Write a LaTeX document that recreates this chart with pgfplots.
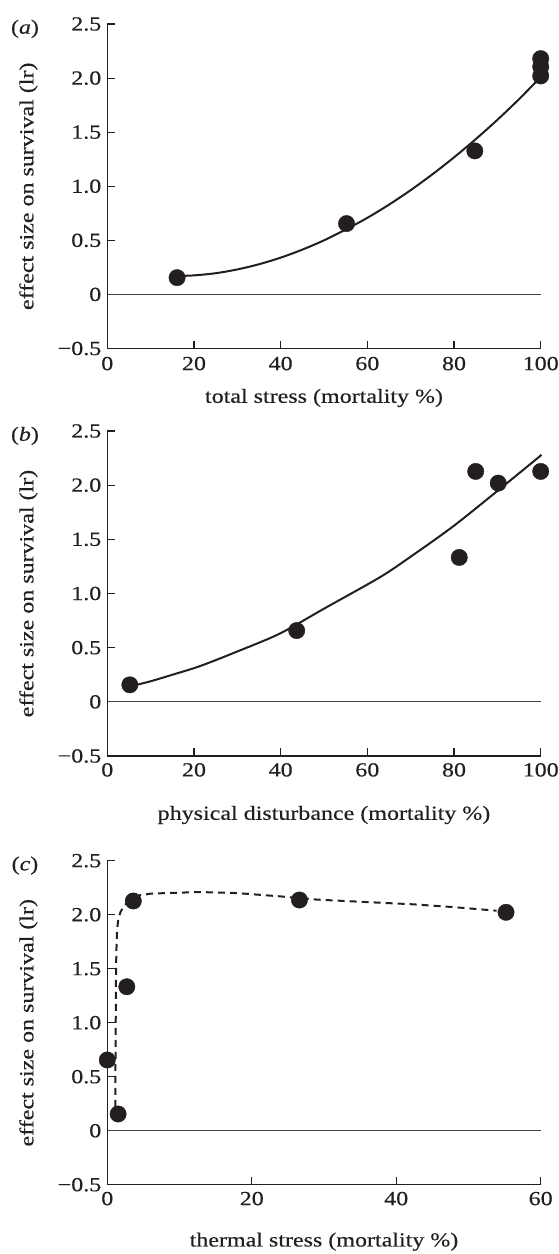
\documentclass[border=0pt]{standalone}
\usepackage{fontspec}
\setmainfont{Liberation Serif}[FakeStretch=1.2, FakeBold=0.4]
\usepackage{pgfplots}
\pgfplotsset{compat=1.18}
\definecolor{ink}{RGB}{35,31,32}
\newcommand{\lf}{\fontsize{20bp}{24bp}\selectfont}
\pgfplotsset{
  panel/.style={
    scale only axis, width=433.4bp, height=324.5bp,
    axis lines=left,
    axis line style={ink, line width=1.1bp, -},
    tick align=inside, major tick length=8bp,
    every tick/.style={ink, line width=1.1bp},
    ymin=-0.5, ymax=2.5,
    ytick={-0.5,0,0.5,1,1.5,2,2.5},
    yticklabels={−0.5,0,0.5,1.0,1.5,2.0,2.5},
    ticklabel style={font=\lf, text=ink},
    yticklabel style={xshift=-2.5bp},
    ylabel={effect size on survival (lr)},
    every axis y label/.style={at={(axis description cs:-0.182,0.5)}, rotate=90, anchor=center, font=\lf, text=ink},
    every axis x label/.style={at={(axis description cs:0.5,0)}, anchor=center, font=\lf, text=ink},
    clip=false,
  },
  dots/.style={only marks, mark=*, mark size=8.2bp, mark options={fill=ink, draw=ink}},
  fit/.style={ink, line width=2bp, no marks},
  zero/.style={ink!85, line width=0.9bp, no marks},
}
\begin{document}
\begin{tikzpicture}
\useasboundingbox (0,0) rectangle (559bp,-1254bp);
% (a)
\begin{axis}[panel, at={(107.3bp,-348.5bp)}, anchor=south west,
  xmin=0, xmax=100, xtick={0,20,40,60,80,100}, xticklabels={0,20,40,60,80,100},
  xticklabel style={yshift=-4.8bp},
  xlabel={total stress (mortality \%)}, x label style={yshift=-49.5bp}]
\addplot[zero] coordinates {(0,0) (100,0)};
\addplot[fit, smooth] coordinates {(16,0.17) (20,0.176) (25,0.196) (30,0.231) (35,0.279) (40,0.34) (45,0.414) (50,0.5) (55,0.6) (60,0.708) (65,0.83) (70,0.964) (75,1.11) (80,1.267) (85,1.435) (90,1.614) (95,1.805) (100,2.01)};
\addplot[dots] coordinates {(16.1,0.155) (55.2,0.655) (84.8,1.327) (100,2.18) (100,2.105) (100,2.02)};
\node[font=\lf, text=ink] at (axis description cs:-0.19,0.985) {(\textit{a})};
\end{axis}
% (b)
\begin{axis}[panel, at={(107.3bp,-756bp)}, anchor=south west, height=325bp,
  xmin=0, xmax=100, xtick={0,20,40,60,80,100}, xticklabels={0,20,40,60,80,100},
  xticklabel style={yshift=-3.6bp},
  xlabel={physical disturbance (mortality \%)}, x label style={yshift=-59bp}]
\addplot[zero] coordinates {(0,0) (100,0)};
\addplot[fit, smooth] coordinates {(5,0.14) (10,0.19) (15,0.25) (21.4,0.33) (30,0.465) (39.8,0.63) (50,0.86) (62.9,1.15) (70,1.34) (79.8,1.62) (89.8,1.94) (100.2,2.28)};
\addplot[dots] coordinates {(5.2,0.157) (43.7,0.658) (81.2,1.333) (85,2.127) (90.2,2.019) (100,2.127)};
\node[font=\lf, text=ink] at (axis description cs:-0.19,0.985) {(\textit{b})};
\end{axis}
% (c)
\begin{axis}[panel, at={(107.3bp,-1184.7bp)}, anchor=south west, height=324bp,
  xmin=0, xmax=60, xtick={0,20,40,60}, xticklabels={0,20,40,60},
  xticklabel style={yshift=-3.6bp},
  xlabel={thermal stress (mortality \%)}, x label style={yshift=-57bp}]
\addplot[zero] coordinates {(0,0) (60,0)};
\addplot[fit, dash pattern=on 7bp off 5bp] coordinates {(1.1,0.22) (1.15,0.8) (1.2,1.4) (1.25,1.65) (1.35,1.85) (1.5,1.95) (1.8,2.02) (2.2,2.07) (2.7,2.11) (3.5,2.15) (4.5,2.18) (6,2.195) (8,2.2) (12.8,2.21) (18,2.2) (23.9,2.17) (29,2.14) (35,2.12) (42.4,2.096) (48,2.07) (53.9,2.037)};
\addplot[dots] coordinates {(0,0.655) (1.5,0.155) (2.7,1.333) (3.6,2.127) (26.6,2.136) (55.2,2.022)};
\node[font=\lf, text=ink] at (axis description cs:-0.19,0.985) {(\textit{c})};
\end{axis}
\end{tikzpicture}
\end{document}
